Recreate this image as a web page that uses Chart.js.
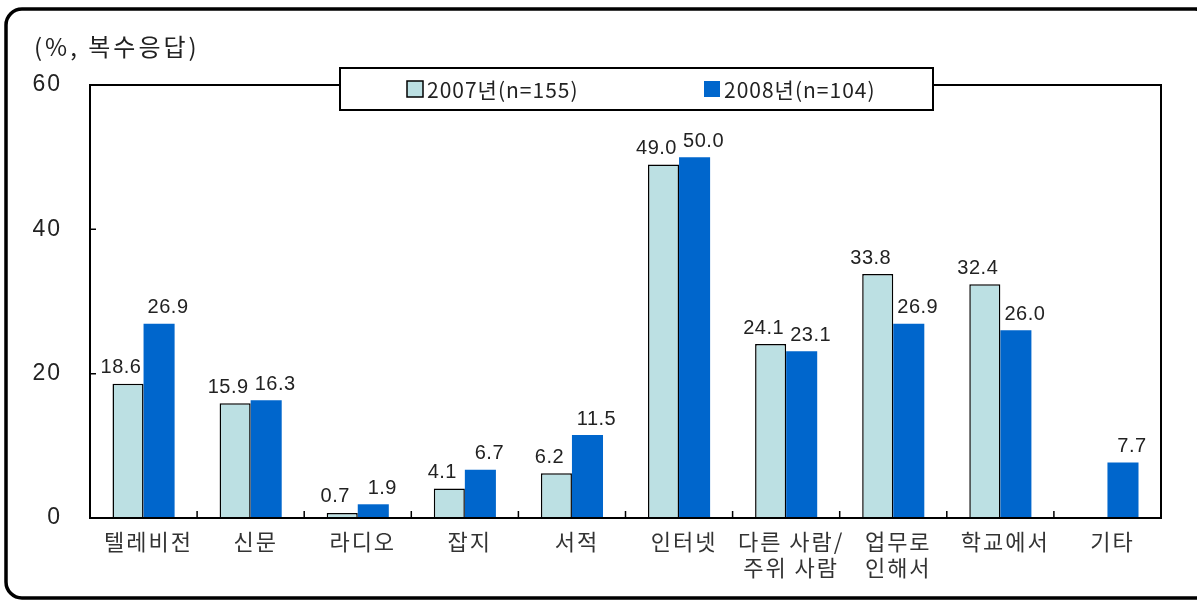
<!DOCTYPE html>
<html>
<head>
<meta charset="utf-8">
<script src="https://cdn.jsdelivr.net/npm/chart.js@4/dist/chart.umd.min.js"></script>
<style>
  html, body { margin: 0; padding: 0; background: #fff; }
  #wrap { width: 1197px; height: 601px; position: relative; }
</style>
</head>
<body>
<div id="wrap"><canvas id="c"></canvas></div>
<script>
const categories = [
  '텔레비전', '신문', '라디오', '잡지', '서적', '인터넷',
  ['다른 사람/', '주위 사람'], ['업무로', '인해서'], '학교에서', '기타'
];
const seriesNames = ['2007년(n=155)', '2008년(n=104)'];
const values2007 = [18.6, 15.9, 0.7, 4.1, 6.2, 49.0, 24.1, 33.8, 32.4, null];
const values2008 = [26.9, 16.3, 1.9, 6.7, 11.5, 50.0, 23.1, 26.9, 26.0, 7.7];
const yTicks = [0, 20, 40, 60];
const unitLabel = '(%, 복수응답)';

const FONT = '"Liberation Sans", "Noto Sans CJK KR", sans-serif';
const KFONT = '"Noto Sans CJK KR", "Liberation Sans", sans-serif';

const decor = {
  id: 'decor',
  beforeDraw(chart) {
    const ctx = chart.ctx;
    ctx.save();
    // outer rounded frame
    ctx.lineWidth = 3.5;
    ctx.strokeStyle = '#000';
    ctx.beginPath();
    ctx.roundRect(6, 9, 1205, 589, 16);
    ctx.stroke();
    // unit label
    ctx.fillStyle = '#222';
    ctx.font = '24px ' + KFONT;
    ctx.letterSpacing = '3px';
    ctx.textBaseline = 'middle';
    ctx.textAlign = 'left';
    ctx.fillText(unitLabel, 34, 47);
    ctx.restore();
    // slightly spaced axis labels, like the original
    ctx.letterSpacing = '2px';
  },
  afterDatasetsDraw(chart) {
    const ctx = chart.ctx;
    const a = chart.chartArea;
    const x = chart.scales.x, y = chart.scales.y;
    ctx.save();
    // plot frame
    ctx.strokeStyle = '#000';
    ctx.lineWidth = 2;
    ctx.strokeRect(a.left, a.top, a.right - a.left, a.bottom - a.top);
    // inward ticks
    ctx.lineWidth = 1.5;
    ctx.beginPath();
    yTicks.forEach(v => {
      const py = y.getPixelForValue(v);
      ctx.moveTo(a.left, py); ctx.lineTo(a.left + 6, py);
    });
    for (let i = 0; i <= categories.length; i++) {
      const px = x.getPixelForValue(i - 0.5);
      ctx.moveTo(px, a.bottom); ctx.lineTo(px, a.bottom - 7);
    }
    ctx.stroke();
    // value labels (2007 nudged left, 2008 nudged right)
    ctx.fillStyle = '#222';
    ctx.font = '20px ' + FONT;
    ctx.letterSpacing = '0.5px';
    ctx.textAlign = 'center';
    ctx.textBaseline = 'bottom';
    chart.data.datasets.forEach((ds, di) => {
      const meta = chart.getDatasetMeta(di);
      const dx = di === 0 ? -7 : 9;
      meta.data.forEach((bar, i) => {
        const v = ds.data[i];
        if (v === null || v === undefined) return;
        ctx.fillText(v.toFixed(1), bar.x + dx, bar.y - 6);
      });
    });
    // legend box
    const lx = 340, ly = 68, lw = 593, lh = 42;
    ctx.fillStyle = '#fff';
    ctx.fillRect(lx, ly, lw, lh);
    ctx.lineWidth = 2;
    ctx.strokeRect(lx, ly, lw, lh);
    const itemX = [407, 704];
    chart.data.datasets.forEach((ds, di) => {
      const sx = itemX[di], sy = ly + 13;
      ctx.fillStyle = ds.backgroundColor;
      ctx.fillRect(sx, sy, 16, 16);
      if (ds.borderWidth) {
        ctx.lineWidth = 1.5;
        ctx.strokeStyle = '#000';
        ctx.strokeRect(sx, sy, 16, 16);
      }
      ctx.fillStyle = '#222';
      ctx.font = '21px ' + KFONT;
      ctx.letterSpacing = '1px';
      ctx.textAlign = 'left';
      ctx.textBaseline = 'middle';
      ctx.fillText(ds.label, sx + 20, ly + lh / 2 + 1);
    });
    ctx.restore();
  }
};

new Chart(document.getElementById('c'), {
  type: 'bar',
  data: {
    labels: categories,
    datasets: [
      {
        label: seriesNames[0],
        data: values2007,
        backgroundColor: '#BCE0E3',
        borderColor: '#000',
        borderWidth: 1.5,
        borderSkipped: 'bottom',
        categoryPercentage: 0.58,
        barPercentage: 1.0
      },
      {
        label: seriesNames[1],
        data: values2008,
        backgroundColor: '#0066CC',
        borderWidth: 0,
        categoryPercentage: 0.58,
        barPercentage: 1.0
      }
    ]
  },
  options: {
    responsive: true,
    maintainAspectRatio: false,
    animation: false,
    layout: { padding: { top: 85, right: 36, left: 0, bottom: 0 } },
    plugins: {
      legend: { display: false },
      tooltip: { enabled: false }
    },
    scales: {
      x: {
        grid: { display: false, drawTicks: false },
        border: { display: false },
        ticks: {
          color: '#333',
          font: { family: KFONT, size: 22, lineHeight: 1.2 },
          padding: 10,
          labelOffset: 5,
          maxRotation: 0,
          autoSkip: false
        },
        afterFit(s) { s.height = 83; }
      },
      y: {
        min: 0,
        max: 60,
        grid: { display: false, drawTicks: false },
        border: { display: false },
        afterBuildTicks(s) { s.ticks = yTicks.map(v => ({ value: v })); },
        ticks: {
          color: '#222',
          font: { family: FONT, size: 23 },
          padding: 28
        },
        afterFit(s) { s.width = 90; }
      }
    }
  },
  plugins: [decor]
});
</script>
</body>
</html>
